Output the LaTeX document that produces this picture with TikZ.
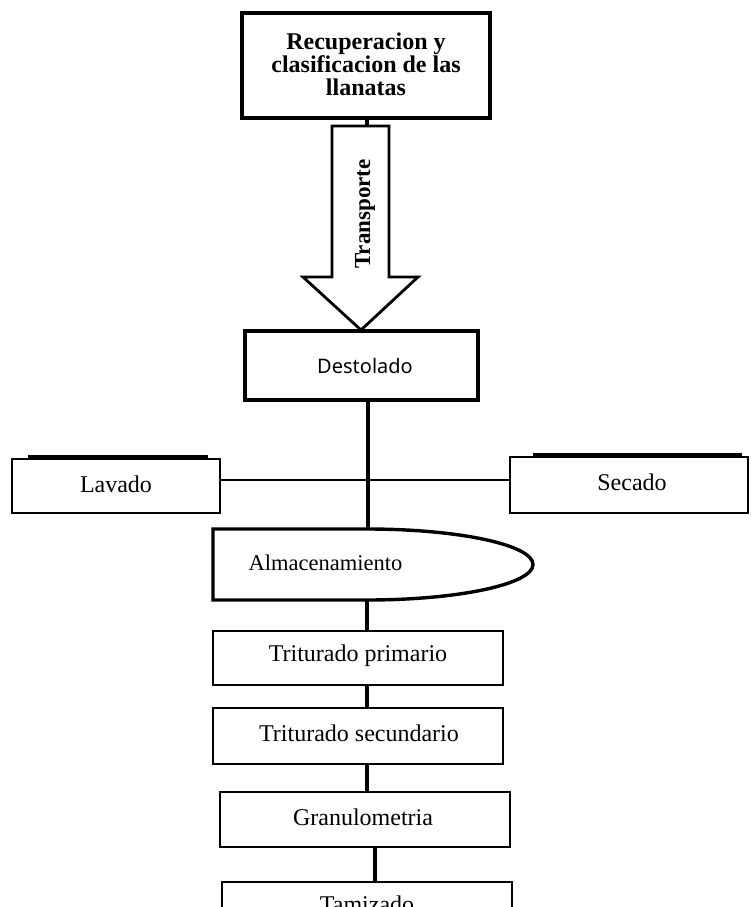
\documentclass[tikz,border=0pt]{standalone}
\usepackage{fontspec}
\setmainfont{Liberation Serif}
\newfontfamily\destfont{Noto Sans}
\begin{document}
\begin{tikzpicture}[x=1pt,y=-1pt,
  thickbox/.style={draw, line width=3.4pt, rectangle, inner sep=0pt},
  thinbox/.style={draw, line width=1.6pt, rectangle, inner sep=0pt},
  conn/.style={line width=3.4pt},
  hconn/.style={line width=2.4pt},
  txt/.style={font=\fontsize{24}{26}\selectfont},
  bartop/.style={line width=3.4pt}]
\useasboundingbox (0,0) rectangle (750,907);
\clip (0,0) rectangle (750,907);
% top box
\node[thickbox, minimum width=248pt, minimum height=105pt] (top) at (366,65.5) {};
\node[align=center, font=\bfseries\fontsize{24}{23}\selectfont] (toptxt) at (366,64) {Recuperacion y\\clasificacion de las\\llanatas};
% transport arrow
\coordinate (arrtop) at (367,126);
\coordinate (arrtip) at (361,330);
\draw[line width=2.8pt, line join=miter] (332,126) -- (389,126) -- (389,277) -- (418,277) -- (arrtip) -- (303,277) -- (332,277) -- cycle;
\draw[conn] (top.south -| arrtop) -- (arrtop);
\node[rotate=90, font=\bfseries\fontsize{23}{24}\selectfont] (transp) at (365,214) {Transporte};
% Destolado
\node[thickbox, minimum width=233pt, minimum height=69pt] (dest) at (361.5,365.5) {};
\node[font=\destfont\fontsize{20}{22}\selectfont] (desttxt) at (365,366) {Destolado};
% junction
\coordinate (J) at (368,480);
\coordinate (almtop) at (368,529);
\draw[conn] (dest.south -| J) -- (almtop);
% Lavado / Secado
\node[thinbox, minimum width=208pt, minimum height=54pt] (lav) at (116,486) {};
\node[txt] (lavtxt) at (116,484) {Lavado};
\draw[bartop] (28,457) -- (208,457);
\node[thinbox, minimum width=238pt, minimum height=56pt] (sec) at (629,485) {};
\node[txt] (sectxt) at (632,482) {Secado};
\draw[bartop] (533,455) -- (742,455);
\draw[hconn] (lav.east |- J) -- (J) -- (sec.west |- J);
% Almacenamiento
\coordinate (almbot) at (367,600);
\draw[line width=3.4pt, line join=miter] (367,529) -- (213,529) -- (213,600) -- (almbot)
  .. controls (458.6,600) and (533,584.1) .. (533,564.5)
  .. controls (533,544.9) and (458.6,529) .. (367,529);
\node[anchor=west, font=\fontsize{22.5}{24}\selectfont] (alm) at (245,563) {Almacenamiento};
% lower chain
\node[thinbox, minimum width=290pt, minimum height=54pt] (tp) at (358,658) {};
\node[txt] (tptxt) at (358,656) {Triturado primario};
\node[thinbox, minimum width=290pt, minimum height=56pt] (ts) at (358,736) {};
\node[txt] (tstxt) at (359,733) {Triturado secundario};
\node[thinbox, minimum width=290pt, minimum height=55pt] (gr) at (365,819.5) {};
\node[txt] (grtxt) at (363,817) {Granulometria};
\node[thinbox, minimum width=290pt, minimum height=60pt] (tam) at (367,912) {};
\node[txt, anchor=base] (tamtxt) at (367,912) {Tamizado};
\coordinate (c1) at (367,0);
\coordinate (c2) at (375,0);
\draw[conn] (almbot) -- (tp.north -| c1);
\draw[conn] (tp.south -| c1) -- (ts.north -| c1);
\draw[conn] (ts.south -| c1) -- (gr.north -| c1);
\draw[conn] (gr.south -| c2) -- (tam.north -| c2);
\end{tikzpicture}
\end{document}
